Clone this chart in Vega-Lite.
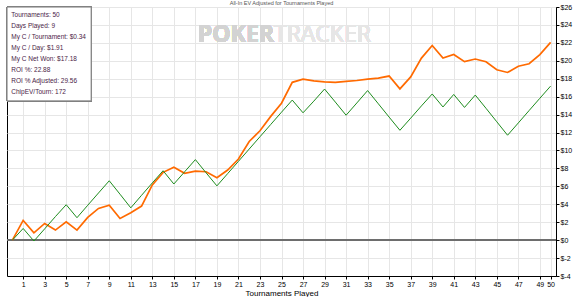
{
  "$schema": "https://vega.github.io/schema/vega-lite/v6.json",
  "width": 549,
  "height": 269,
  "autosize": {"type": "none"},
  "padding": {"left": 7, "top": 7, "right": 21, "bottom": 21},
  "background": "#ffffff",
  "config": {
    "view": {"stroke": "#000000", "strokeWidth": 1},
    "font": "Liberation Sans",
    "axis": {"labelFontSize": 7, "labelColor": "#000", "labelOverlap": false, "labelFlush": false, "labelPadding": 1, "tickSize": 3, "tickColor": "#000", "domainColor": "#000", "gridColor": "#e6e6e6", "grid": true, "titleFontSize": 8, "titleFontWeight": "normal", "titleColor": "#000", "titlePadding": 2}
  },
  "title": {"text": "All-In EV Adjusted for Tournaments Played", "fontSize": 5.5, "fontWeight": "normal", "color": "#555555", "offset": 0, "dy": 3, "anchor": "middle"},
  "layer": [
    {
      "data": {"values": [
        {"t":0,"v":0,"s":"All-In EV"},{"t":1,"v":2.2,"s":"All-In EV"},{"t":2,"v":0.82,"s":"All-In EV"},{"t":3,"v":1.86,"s":"All-In EV"},{"t":4,"v":1.12,"s":"All-In EV"},{"t":5,"v":2.05,"s":"All-In EV"},{"t":6,"v":1.12,"s":"All-In EV"},{"t":7,"v":2.53,"s":"All-In EV"},{"t":8,"v":3.54,"s":"All-In EV"},{"t":9,"v":3.9,"s":"All-In EV"},{"t":10,"v":2.42,"s":"All-In EV"},{"t":11,"v":3.05,"s":"All-In EV"},{"t":12,"v":3.8,"s":"All-In EV"},{"t":13,"v":6.15,"s":"All-In EV"},{"t":14,"v":7.56,"s":"All-In EV"},{"t":15,"v":8.12,"s":"All-In EV"},{"t":16,"v":7.45,"s":"All-In EV"},{"t":17,"v":7.7,"s":"All-In EV"},{"t":18,"v":7.63,"s":"All-In EV"},{"t":19,"v":6.96,"s":"All-In EV"},{"t":20,"v":7.82,"s":"All-In EV"},{"t":21,"v":9.05,"s":"All-In EV"},{"t":22,"v":11.0,"s":"All-In EV"},{"t":23,"v":12.2,"s":"All-In EV"},{"t":24,"v":13.8,"s":"All-In EV"},{"t":25,"v":15.27,"s":"All-In EV"},{"t":26,"v":17.6,"s":"All-In EV"},{"t":27,"v":17.95,"s":"All-In EV"},{"t":28,"v":17.77,"s":"All-In EV"},{"t":29,"v":17.65,"s":"All-In EV"},{"t":30,"v":17.6,"s":"All-In EV"},{"t":31,"v":17.7,"s":"All-In EV"},{"t":32,"v":17.8,"s":"All-In EV"},{"t":33,"v":17.95,"s":"All-In EV"},{"t":34,"v":18.07,"s":"All-In EV"},{"t":35,"v":18.3,"s":"All-In EV"},{"t":36,"v":16.87,"s":"All-In EV"},{"t":37,"v":18.2,"s":"All-In EV"},{"t":38,"v":20.3,"s":"All-In EV"},{"t":39,"v":21.7,"s":"All-In EV"},{"t":40,"v":20.3,"s":"All-In EV"},{"t":41,"v":20.7,"s":"All-In EV"},{"t":42,"v":19.9,"s":"All-In EV"},{"t":43,"v":20.2,"s":"All-In EV"},{"t":44,"v":19.9,"s":"All-In EV"},{"t":45,"v":19.0,"s":"All-In EV"},{"t":46,"v":18.7,"s":"All-In EV"},{"t":47,"v":19.4,"s":"All-In EV"},{"t":48,"v":19.67,"s":"All-In EV"},{"t":49,"v":20.7,"s":"All-In EV"},{"t":50,"v":22.05,"s":"All-In EV"},
        {"t":0,"v":0,"s":"Net Won"},{"t":1,"v":1.3,"s":"Net Won"},{"t":2,"v":-0.1,"s":"Net Won"},{"t":3,"v":1.26,"s":"Net Won"},{"t":4,"v":2.63,"s":"Net Won"},{"t":5,"v":3.95,"s":"Net Won"},{"t":6,"v":2.5,"s":"Net Won"},{"t":7,"v":3.89,"s":"Net Won"},{"t":8,"v":5.26,"s":"Net Won"},{"t":9,"v":6.62,"s":"Net Won"},{"t":10,"v":5.12,"s":"Net Won"},{"t":11,"v":3.6,"s":"Net Won"},{"t":12,"v":5.0,"s":"Net Won"},{"t":13,"v":6.38,"s":"Net Won"},{"t":14,"v":7.74,"s":"Net Won"},{"t":15,"v":6.26,"s":"Net Won"},{"t":16,"v":7.62,"s":"Net Won"},{"t":17,"v":8.98,"s":"Net Won"},{"t":18,"v":7.5,"s":"Net Won"},{"t":19,"v":6.05,"s":"Net Won"},{"t":20,"v":7.42,"s":"Net Won"},{"t":21,"v":8.79,"s":"Net Won"},{"t":22,"v":10.16,"s":"Net Won"},{"t":23,"v":11.53,"s":"Net Won"},{"t":24,"v":12.9,"s":"Net Won"},{"t":25,"v":14.27,"s":"Net Won"},{"t":26,"v":15.62,"s":"Net Won"},{"t":27,"v":14.2,"s":"Net Won"},{"t":28,"v":15.5,"s":"Net Won"},{"t":29,"v":16.85,"s":"Net Won"},{"t":30,"v":15.4,"s":"Net Won"},{"t":31,"v":13.93,"s":"Net Won"},{"t":32,"v":15.3,"s":"Net Won"},{"t":33,"v":16.68,"s":"Net Won"},{"t":34,"v":15.2,"s":"Net Won"},{"t":35,"v":13.72,"s":"Net Won"},{"t":36,"v":12.25,"s":"Net Won"},{"t":37,"v":13.6,"s":"Net Won"},{"t":38,"v":14.97,"s":"Net Won"},{"t":39,"v":16.3,"s":"Net Won"},{"t":40,"v":14.85,"s":"Net Won"},{"t":41,"v":16.25,"s":"Net Won"},{"t":42,"v":14.8,"s":"Net Won"},{"t":43,"v":16.18,"s":"Net Won"},{"t":44,"v":14.7,"s":"Net Won"},{"t":45,"v":13.2,"s":"Net Won"},{"t":46,"v":11.7,"s":"Net Won"},{"t":47,"v":13.07,"s":"Net Won"},{"t":48,"v":14.45,"s":"Net Won"},{"t":49,"v":15.82,"s":"Net Won"},{"t":50,"v":17.18,"s":"Net Won"}
      ]},
      "layer": [
        {
          "mark": {"type": "text", "text": "POKER", "font": "Open Sans", "fontSize": 23, "fontWeight": "bold", "align": "right", "baseline": "middle", "color": "#d3d3d3"},
          "encoding": {
            "x": {"datum": 24.3, "type": "quantitative",
              "axis": {"values": [1,3,5,7,9,11,13,15,17,19,21,23,25,27,29,31,33,35,37,39,41,43,45,47,49,50], "title": "Tournaments Played"}},
            "y": {"datum": 22.9, "type": "quantitative",
              "axis": {"orient": "right", "values": [-4,-2,0,2,4,6,8,10,12,14,16,18,20,22,24,26], "labelExpr": "'$' + datum.value", "title": null}}
          }
        },
        {
          "mark": {"type": "text", "text": "TRACKER", "font": "Open Sans", "fontSize": 23, "fontWeight": "normal", "align": "left", "baseline": "middle", "color": "#e6e6e6"},
          "encoding": {
            "x": {"datum": 24.3, "type": "quantitative",
              "axis": {"values": [1,3,5,7,9,11,13,15,17,19,21,23,25,27,29,31,33,35,37,39,41,43,45,47,49,50], "title": "Tournaments Played"}},
            "y": {"datum": 22.9, "type": "quantitative",
              "axis": {"orient": "right", "values": [-4,-2,0,2,4,6,8,10,12,14,16,18,20,22,24,26], "labelExpr": "'$' + datum.value", "title": null}}
          }
        },
        {
          "mark": {"type": "rule", "color": "#6e6e6e", "strokeWidth": 1.2},
          "encoding": {"y": {"datum": 0, "type": "quantitative",
              "axis": {"orient": "right", "values": [-4,-2,0,2,4,6,8,10,12,14,16,18,20,22,24,26], "labelExpr": "'$' + datum.value", "title": null}}}
        },
        {
          "mark": {"type": "line", "interpolate": "linear"},
          "encoding": {
            "x": {"field": "t", "type": "quantitative", "scale": {"domain": [-0.5, 50.5], "nice": false, "zero": false},
              "axis": {"values": [1,3,5,7,9,11,13,15,17,19,21,23,25,27,29,31,33,35,37,39,41,43,45,47,49,50], "title": "Tournaments Played"}},
            "y": {"field": "v", "type": "quantitative", "scale": {"domain": [-4, 26], "nice": false, "zero": false},
              "axis": {"orient": "right", "values": [-4,-2,0,2,4,6,8,10,12,14,16,18,20,22,24,26], "labelExpr": "'$' + datum.value", "title": null}},
            "color": {"field": "s", "type": "nominal", "scale": {"domain": ["All-In EV", "Net Won"], "range": ["#ff6a00", "#1e8c1e"]}, "legend": null},
            "strokeWidth": {"field": "s", "type": "nominal", "scale": {"domain": ["All-In EV", "Net Won"], "range": [1.7, 1]}, "legend": null},
            "order": {"field": "t", "type": "quantitative"}
          }
        },
        {
          "mark": {"type": "rect", "fill": "#ffffff", "fillOpacity": 0.85, "stroke": "#808080", "strokeWidth": 1},
          "encoding": {
            "x": {"datum": -0.5, "type": "quantitative",
              "axis": {"values": [1,3,5,7,9,11,13,15,17,19,21,23,25,27,29,31,33,35,37,39,41,43,45,47,49,50], "title": "Tournaments Played"}},
            "x2": {"datum": 7.32},
            "y": {"datum": 26, "type": "quantitative",
              "axis": {"orient": "right", "values": [-4,-2,0,2,4,6,8,10,12,14,16,18,20,22,24,26], "labelExpr": "'$' + datum.value", "title": null}},
            "y2": {"datum": 15.53}
          }
        }
      ]
    },
    {
      "data": {"values": [
        {"line": 1, "stat": "Tournaments: 50"},
        {"line": 2, "stat": "Days Played: 9"},
        {"line": 3, "stat": "My C / Tournament: $0.34"},
        {"line": 4, "stat": "My C / Day: $1.91"},
        {"line": 5, "stat": "My C Net Won: $17.18"},
        {"line": 6, "stat": "ROI %: 22.88"},
        {"line": 7, "stat": "ROI % Adjusted: 29.56"},
        {"line": 8, "stat": "ChipEV/Tourn: 172"}
      ]},
      "mark": {"type": "text", "align": "left", "baseline": "middle", "fontSize": 6.5, "font": "Liberation Sans", "color": "#4a2446"},
      "encoding": {
        "x": {"datum": -0.1, "type": "quantitative",
          "axis": {"values": [1,3,5,7,9,11,13,15,17,19,21,23,25,27,29,31,33,35,37,39,41,43,45,47,49,50], "title": "Tournaments Played"}},
        "y": {"field": "line", "type": "quantitative", "scale": {"domain": [0.2727, 24.727], "nice": false, "zero": false, "reverse": true}, "axis": null},
        "text": {"field": "stat"}
      }
    }
  ],
  "resolve": {"scale": {"y": "independent"}}
}
